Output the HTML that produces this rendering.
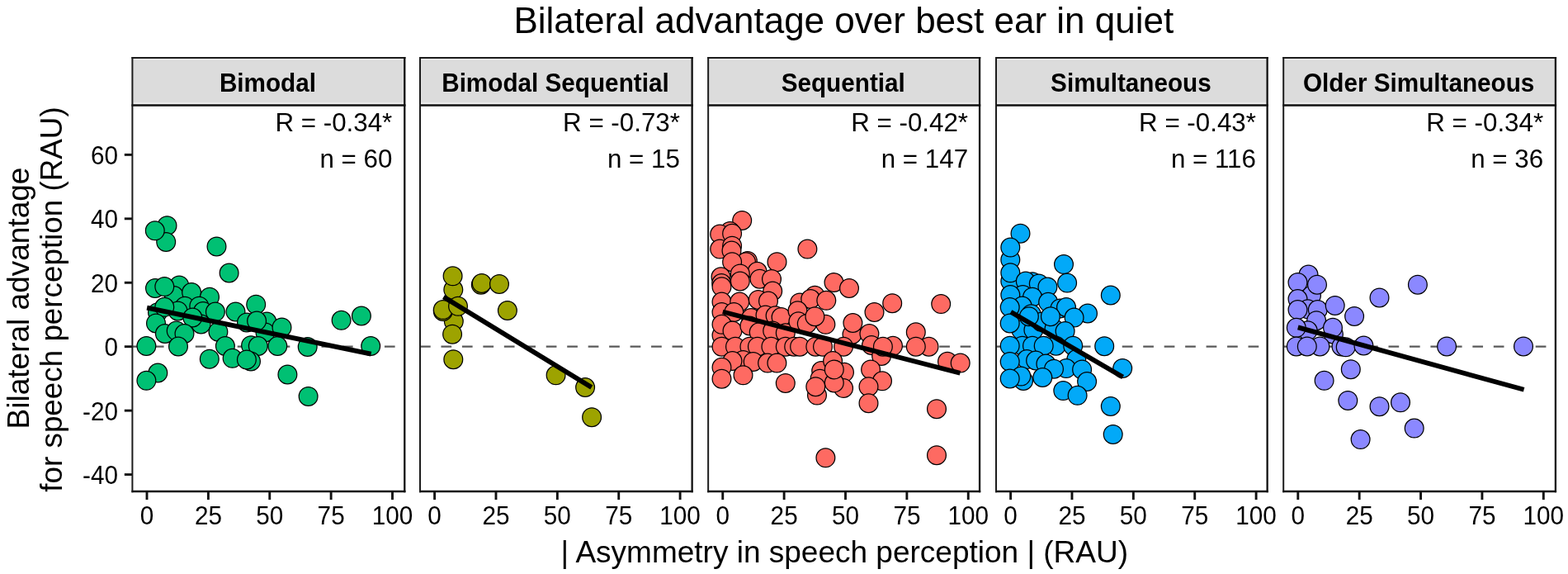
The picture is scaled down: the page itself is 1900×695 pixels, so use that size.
<!DOCTYPE html><html><head><meta charset="utf-8"><style>html,body{margin:0;padding:0;background:#fff;width:1900px;height:695px;overflow:hidden}svg{display:block}text{font-family:"Liberation Sans",Arial,sans-serif;fill:#000}</style></head><body>
<svg width="1900" height="695" viewBox="0 0 1900 695">
<rect x="0" y="0" width="1900" height="695" fill="#fff"/>
<text x="1022.3" y="39.6" font-size="44" text-anchor="middle">Bilateral advantage over best ear in quiet</text>
<g transform="translate(35.4,361) rotate(-90)"><text x="0" y="0" font-size="37" text-anchor="middle">Bilateral advantage</text></g>
<g transform="translate(75.1,362.5) rotate(-90)"><text x="0" y="0" font-size="36.8" text-anchor="middle">for speech perception (RAU)</text></g>
<text x="1023.3" y="680.5" font-size="37" text-anchor="middle">| Asymmetry in speech perception | (RAU)</text>
<line x1="150.8" y1="187.38" x2="160.40" y2="187.38" stroke="#111" stroke-width="2.9"/>
<text transform="translate(143,198.98) scale(1,1.055)" font-size="29.7" text-anchor="end">60</text>
<line x1="150.8" y1="264.82" x2="160.40" y2="264.82" stroke="#111" stroke-width="2.9"/>
<text transform="translate(143,276.42) scale(1,1.055)" font-size="29.7" text-anchor="end">40</text>
<line x1="150.8" y1="342.26" x2="160.40" y2="342.26" stroke="#111" stroke-width="2.9"/>
<text transform="translate(143,353.86) scale(1,1.055)" font-size="29.7" text-anchor="end">20</text>
<line x1="150.8" y1="419.70" x2="160.40" y2="419.70" stroke="#111" stroke-width="2.9"/>
<text transform="translate(143,431.30) scale(1,1.055)" font-size="29.7" text-anchor="end">0</text>
<line x1="150.8" y1="497.14" x2="160.40" y2="497.14" stroke="#111" stroke-width="2.9"/>
<text transform="translate(143,508.74) scale(1,1.055)" font-size="29.7" text-anchor="end">-20</text>
<line x1="150.8" y1="574.58" x2="160.40" y2="574.58" stroke="#111" stroke-width="2.9"/>
<text transform="translate(143,586.18) scale(1,1.055)" font-size="29.7" text-anchor="end">-40</text>
<rect x="160.40" y="69.95" width="329.87" height="57.55" fill="#dcdcdc"/>
<rect x="161.40" y="70.95" width="327.87" height="1.8" fill="#e7e7e7"/>
<rect x="161.40" y="124.10" width="327.87" height="2.0" fill="#ebebeb"/>
<text transform="translate(324.44,110.7) scale(1,1.05)" font-size="29.7" font-weight="bold" text-anchor="middle">Bimodal</text>
<clipPath id="c0"><rect x="160.40" y="127.50" width="329.87" height="467.50"/></clipPath>
<g clip-path="url(#c0)">
<line x1="160.40" y1="419.70" x2="490.27" y2="419.70" stroke="#595959" stroke-width="2.3" stroke-dasharray="12.7 12.76"/>
<circle cx="202.5" cy="273.2" r="11.38" fill="#00C073" stroke="#000" stroke-width="1.25"/>
<circle cx="201.2" cy="292.9" r="11.38" fill="#00C073" stroke="#000" stroke-width="1.25"/>
<circle cx="187.8" cy="279.3" r="11.38" fill="#00C073" stroke="#000" stroke-width="1.25"/>
<circle cx="262.5" cy="298.4" r="11.38" fill="#00C073" stroke="#000" stroke-width="1.25"/>
<circle cx="277.6" cy="330.5" r="11.38" fill="#00C073" stroke="#000" stroke-width="1.25"/>
<circle cx="188.0" cy="349.0" r="11.38" fill="#00C073" stroke="#000" stroke-width="1.25"/>
<circle cx="217.2" cy="345.4" r="11.38" fill="#00C073" stroke="#000" stroke-width="1.25"/>
<circle cx="210.9" cy="358.0" r="11.38" fill="#00C073" stroke="#000" stroke-width="1.25"/>
<circle cx="199.3" cy="347.1" r="11.38" fill="#00C073" stroke="#000" stroke-width="1.25"/>
<circle cx="232.1" cy="354.0" r="11.38" fill="#00C073" stroke="#000" stroke-width="1.25"/>
<circle cx="254.0" cy="359.7" r="11.38" fill="#00C073" stroke="#000" stroke-width="1.25"/>
<circle cx="310.2" cy="368.7" r="11.38" fill="#00C073" stroke="#000" stroke-width="1.25"/>
<circle cx="285.5" cy="377.5" r="11.38" fill="#00C073" stroke="#000" stroke-width="1.25"/>
<circle cx="437.9" cy="382.5" r="11.38" fill="#00C073" stroke="#000" stroke-width="1.25"/>
<circle cx="191.0" cy="378.2" r="11.38" fill="#00C073" stroke="#000" stroke-width="1.25"/>
<circle cx="224.0" cy="370.7" r="11.38" fill="#00C073" stroke="#000" stroke-width="1.25"/>
<circle cx="215.5" cy="376.4" r="11.38" fill="#00C073" stroke="#000" stroke-width="1.25"/>
<circle cx="241.3" cy="370.7" r="11.38" fill="#00C073" stroke="#000" stroke-width="1.25"/>
<circle cx="199.3" cy="371.8" r="11.38" fill="#00C073" stroke="#000" stroke-width="1.25"/>
<circle cx="246.0" cy="377.0" r="11.38" fill="#00C073" stroke="#000" stroke-width="1.25"/>
<circle cx="260.9" cy="377.6" r="11.38" fill="#00C073" stroke="#000" stroke-width="1.25"/>
<circle cx="243.6" cy="392.5" r="11.38" fill="#00C073" stroke="#000" stroke-width="1.25"/>
<circle cx="233.3" cy="384.5" r="11.38" fill="#00C073" stroke="#000" stroke-width="1.25"/>
<circle cx="189.0" cy="391.4" r="11.38" fill="#00C073" stroke="#000" stroke-width="1.25"/>
<circle cx="199.9" cy="404.0" r="11.38" fill="#00C073" stroke="#000" stroke-width="1.25"/>
<circle cx="213.7" cy="400.6" r="11.38" fill="#00C073" stroke="#000" stroke-width="1.25"/>
<circle cx="223.5" cy="404.0" r="11.38" fill="#00C073" stroke="#000" stroke-width="1.25"/>
<circle cx="264.4" cy="401.7" r="11.38" fill="#00C073" stroke="#000" stroke-width="1.25"/>
<circle cx="177.4" cy="419.0" r="11.38" fill="#00C073" stroke="#000" stroke-width="1.25"/>
<circle cx="216.0" cy="419.5" r="11.38" fill="#00C073" stroke="#000" stroke-width="1.25"/>
<circle cx="272.9" cy="419.0" r="11.38" fill="#00C073" stroke="#000" stroke-width="1.25"/>
<circle cx="299.0" cy="390.4" r="11.38" fill="#00C073" stroke="#000" stroke-width="1.25"/>
<circle cx="323.3" cy="389.5" r="11.38" fill="#00C073" stroke="#000" stroke-width="1.25"/>
<circle cx="321.5" cy="402.5" r="11.38" fill="#00C073" stroke="#000" stroke-width="1.25"/>
<circle cx="311.1" cy="388.6" r="11.38" fill="#00C073" stroke="#000" stroke-width="1.25"/>
<circle cx="341.5" cy="396.4" r="11.38" fill="#00C073" stroke="#000" stroke-width="1.25"/>
<circle cx="413.6" cy="387.8" r="11.38" fill="#00C073" stroke="#000" stroke-width="1.25"/>
<circle cx="304.1" cy="418.2" r="11.38" fill="#00C073" stroke="#000" stroke-width="1.25"/>
<circle cx="312.8" cy="419.0" r="11.38" fill="#00C073" stroke="#000" stroke-width="1.25"/>
<circle cx="336.3" cy="419.0" r="11.38" fill="#00C073" stroke="#000" stroke-width="1.25"/>
<circle cx="372.7" cy="419.9" r="11.38" fill="#00C073" stroke="#000" stroke-width="1.25"/>
<circle cx="449.2" cy="419.0" r="11.38" fill="#00C073" stroke="#000" stroke-width="1.25"/>
<circle cx="253.8" cy="434.7" r="11.38" fill="#00C073" stroke="#000" stroke-width="1.25"/>
<circle cx="281.6" cy="433.8" r="11.38" fill="#00C073" stroke="#000" stroke-width="1.25"/>
<circle cx="304.0" cy="437.5" r="11.38" fill="#00C073" stroke="#000" stroke-width="1.25"/>
<circle cx="298.9" cy="435.5" r="11.38" fill="#00C073" stroke="#000" stroke-width="1.25"/>
<circle cx="191.3" cy="451.5" r="11.38" fill="#00C073" stroke="#000" stroke-width="1.25"/>
<circle cx="177.4" cy="460.8" r="11.38" fill="#00C073" stroke="#000" stroke-width="1.25"/>
<circle cx="348.4" cy="453.5" r="11.38" fill="#00C073" stroke="#000" stroke-width="1.25"/>
<circle cx="373.6" cy="479.9" r="11.38" fill="#00C073" stroke="#000" stroke-width="1.25"/>
<line x1="178.1" y1="372.6" x2="449.6" y2="428.7" stroke="#000" stroke-width="5.8"/>
</g>
<text x="475.30" y="159.1" font-size="31.3" text-anchor="end">R = -0.34*</text>
<text x="475.30" y="203.4" font-size="31.3" text-anchor="end">n = 60</text>
<line x1="159.40" y1="69.95" x2="491.47" y2="69.95" stroke="#1c1c1c" stroke-width="1.9"/>
<line x1="159.40" y1="127.50" x2="491.47" y2="127.50" stroke="#111" stroke-width="2.6"/>
<line x1="159.40" y1="595.00" x2="491.47" y2="595.00" stroke="#111" stroke-width="2.4"/>
<line x1="160.40" y1="69.00" x2="160.40" y2="596.20" stroke="#1c1c1c" stroke-width="2.0"/>
<line x1="490.27" y1="69.00" x2="490.27" y2="596.20" stroke="#111" stroke-width="2.3"/>
<line x1="178.00" y1="595.00" x2="178.00" y2="605.1" stroke="#111" stroke-width="2.9"/>
<text transform="translate(178.00,634.9) scale(1,1.05)" font-size="29.7" text-anchor="middle">0</text>
<line x1="252.38" y1="595.00" x2="252.38" y2="605.1" stroke="#111" stroke-width="2.9"/>
<text transform="translate(252.38,634.9) scale(1,1.05)" font-size="29.7" text-anchor="middle">25</text>
<line x1="326.75" y1="595.00" x2="326.75" y2="605.1" stroke="#111" stroke-width="2.9"/>
<text transform="translate(326.75,634.9) scale(1,1.05)" font-size="29.7" text-anchor="middle">50</text>
<line x1="401.12" y1="595.00" x2="401.12" y2="605.1" stroke="#111" stroke-width="2.9"/>
<text transform="translate(401.12,634.9) scale(1,1.05)" font-size="29.7" text-anchor="middle">75</text>
<line x1="475.50" y1="595.00" x2="475.50" y2="605.1" stroke="#111" stroke-width="2.9"/>
<text transform="translate(475.50,634.9) scale(1,1.05)" font-size="29.7" text-anchor="middle">100</text>
<rect x="509.00" y="69.95" width="329.64" height="57.55" fill="#dcdcdc"/>
<rect x="510.00" y="70.95" width="327.64" height="1.8" fill="#e7e7e7"/>
<rect x="510.00" y="124.10" width="327.64" height="2.0" fill="#ebebeb"/>
<text transform="translate(672.92,110.7) scale(1,1.05)" font-size="29.7" font-weight="bold" text-anchor="middle">Bimodal Sequential</text>
<clipPath id="c1"><rect x="509.00" y="127.50" width="329.64" height="467.50"/></clipPath>
<g clip-path="url(#c1)">
<line x1="509.00" y1="419.70" x2="838.64" y2="419.70" stroke="#595959" stroke-width="2.3" stroke-dasharray="12.7 12.76"/>
<circle cx="549.3" cy="350.8" r="11.38" fill="#9DA300" stroke="#000" stroke-width="1.25"/>
<circle cx="548.6" cy="334.3" r="11.38" fill="#9DA300" stroke="#000" stroke-width="1.25"/>
<circle cx="582.8" cy="344.7" r="11.38" fill="#9DA300" stroke="#000" stroke-width="1.25"/>
<circle cx="583.7" cy="343.0" r="11.38" fill="#9DA300" stroke="#000" stroke-width="1.25"/>
<circle cx="605.0" cy="343.9" r="11.38" fill="#9DA300" stroke="#000" stroke-width="1.25"/>
<circle cx="549.8" cy="389.0" r="11.38" fill="#9DA300" stroke="#000" stroke-width="1.25"/>
<circle cx="548.1" cy="404.7" r="11.38" fill="#9DA300" stroke="#000" stroke-width="1.25"/>
<circle cx="536.8" cy="376.9" r="11.38" fill="#9DA300" stroke="#000" stroke-width="1.25"/>
<circle cx="536.8" cy="375.1" r="11.38" fill="#9DA300" stroke="#000" stroke-width="1.25"/>
<circle cx="555.0" cy="370.8" r="11.38" fill="#9DA300" stroke="#000" stroke-width="1.25"/>
<circle cx="614.9" cy="376.0" r="11.38" fill="#9DA300" stroke="#000" stroke-width="1.25"/>
<circle cx="549.3" cy="435.2" r="11.38" fill="#9DA300" stroke="#000" stroke-width="1.25"/>
<circle cx="673.6" cy="454.3" r="11.38" fill="#9DA300" stroke="#000" stroke-width="1.25"/>
<circle cx="709.1" cy="469.0" r="11.38" fill="#9DA300" stroke="#000" stroke-width="1.25"/>
<circle cx="717.1" cy="505.2" r="11.38" fill="#9DA300" stroke="#000" stroke-width="1.25"/>
<line x1="537.5" y1="359.6" x2="716.8" y2="469.0" stroke="#000" stroke-width="5.8"/>
</g>
<text x="823.90" y="159.1" font-size="31.3" text-anchor="end">R = -0.73*</text>
<text x="823.90" y="203.4" font-size="31.3" text-anchor="end">n = 15</text>
<line x1="508.00" y1="69.95" x2="839.84" y2="69.95" stroke="#1c1c1c" stroke-width="1.9"/>
<line x1="508.00" y1="127.50" x2="839.84" y2="127.50" stroke="#111" stroke-width="2.6"/>
<line x1="508.00" y1="595.00" x2="839.84" y2="595.00" stroke="#111" stroke-width="2.4"/>
<line x1="509.00" y1="69.00" x2="509.00" y2="596.20" stroke="#1c1c1c" stroke-width="2.0"/>
<line x1="838.64" y1="69.00" x2="838.64" y2="596.20" stroke="#111" stroke-width="2.3"/>
<line x1="526.60" y1="595.00" x2="526.60" y2="605.1" stroke="#111" stroke-width="2.9"/>
<text transform="translate(526.60,634.9) scale(1,1.05)" font-size="29.7" text-anchor="middle">0</text>
<line x1="600.98" y1="595.00" x2="600.98" y2="605.1" stroke="#111" stroke-width="2.9"/>
<text transform="translate(600.98,634.9) scale(1,1.05)" font-size="29.7" text-anchor="middle">25</text>
<line x1="675.35" y1="595.00" x2="675.35" y2="605.1" stroke="#111" stroke-width="2.9"/>
<text transform="translate(675.35,634.9) scale(1,1.05)" font-size="29.7" text-anchor="middle">50</text>
<line x1="749.73" y1="595.00" x2="749.73" y2="605.1" stroke="#111" stroke-width="2.9"/>
<text transform="translate(749.73,634.9) scale(1,1.05)" font-size="29.7" text-anchor="middle">75</text>
<line x1="824.10" y1="595.00" x2="824.10" y2="605.1" stroke="#111" stroke-width="2.9"/>
<text transform="translate(824.10,634.9) scale(1,1.05)" font-size="29.7" text-anchor="middle">100</text>
<rect x="858.15" y="69.95" width="328.91" height="57.55" fill="#dcdcdc"/>
<rect x="859.15" y="70.95" width="326.91" height="1.8" fill="#e7e7e7"/>
<rect x="859.15" y="124.10" width="326.91" height="2.0" fill="#ebebeb"/>
<text transform="translate(1021.71,110.7) scale(1,1.05)" font-size="29.7" font-weight="bold" text-anchor="middle">Sequential</text>
<clipPath id="c2"><rect x="858.15" y="127.50" width="328.91" height="467.50"/></clipPath>
<g clip-path="url(#c2)">
<line x1="858.15" y1="419.70" x2="1187.06" y2="419.70" stroke="#595959" stroke-width="2.3" stroke-dasharray="12.7 12.76"/>
<circle cx="899.2" cy="266.9" r="11.38" fill="#FE6A62" stroke="#000" stroke-width="1.25"/>
<circle cx="884.5" cy="280.0" r="11.38" fill="#FE6A62" stroke="#000" stroke-width="1.25"/>
<circle cx="872.2" cy="283.5" r="11.38" fill="#FE6A62" stroke="#000" stroke-width="1.25"/>
<circle cx="887.1" cy="282.8" r="11.38" fill="#FE6A62" stroke="#000" stroke-width="1.25"/>
<circle cx="872.2" cy="301.6" r="11.38" fill="#FE6A62" stroke="#000" stroke-width="1.25"/>
<circle cx="887.1" cy="297.7" r="11.38" fill="#FE6A62" stroke="#000" stroke-width="1.25"/>
<circle cx="886.5" cy="303.6" r="11.38" fill="#FE6A62" stroke="#000" stroke-width="1.25"/>
<circle cx="905.9" cy="315.9" r="11.38" fill="#FE6A62" stroke="#000" stroke-width="1.25"/>
<circle cx="904.0" cy="317.2" r="11.38" fill="#FE6A62" stroke="#000" stroke-width="1.25"/>
<circle cx="887.1" cy="317.2" r="11.38" fill="#FE6A62" stroke="#000" stroke-width="1.25"/>
<circle cx="917.6" cy="328.8" r="11.38" fill="#FE6A62" stroke="#000" stroke-width="1.25"/>
<circle cx="941.5" cy="317.2" r="11.38" fill="#FE6A62" stroke="#000" stroke-width="1.25"/>
<circle cx="978.4" cy="301.6" r="11.38" fill="#FE6A62" stroke="#000" stroke-width="1.25"/>
<circle cx="873.5" cy="335.3" r="11.38" fill="#FE6A62" stroke="#000" stroke-width="1.25"/>
<circle cx="896.8" cy="331.4" r="11.38" fill="#FE6A62" stroke="#000" stroke-width="1.25"/>
<circle cx="896.8" cy="340.5" r="11.38" fill="#FE6A62" stroke="#000" stroke-width="1.25"/>
<circle cx="920.5" cy="337.7" r="11.38" fill="#FE6A62" stroke="#000" stroke-width="1.25"/>
<circle cx="935.0" cy="337.9" r="11.38" fill="#FE6A62" stroke="#000" stroke-width="1.25"/>
<circle cx="874.2" cy="343.0" r="11.38" fill="#FE6A62" stroke="#000" stroke-width="1.25"/>
<circle cx="874.5" cy="347.3" r="11.38" fill="#FE6A62" stroke="#000" stroke-width="1.25"/>
<circle cx="936.2" cy="352.5" r="11.38" fill="#FE6A62" stroke="#000" stroke-width="1.25"/>
<circle cx="1010.5" cy="342.0" r="11.38" fill="#FE6A62" stroke="#000" stroke-width="1.25"/>
<circle cx="1029.0" cy="349.0" r="11.38" fill="#FE6A62" stroke="#000" stroke-width="1.25"/>
<circle cx="874.5" cy="365.5" r="11.38" fill="#FE6A62" stroke="#000" stroke-width="1.25"/>
<circle cx="896.2" cy="365.5" r="11.38" fill="#FE6A62" stroke="#000" stroke-width="1.25"/>
<circle cx="918.8" cy="362.9" r="11.38" fill="#FE6A62" stroke="#000" stroke-width="1.25"/>
<circle cx="931.0" cy="364.6" r="11.38" fill="#FE6A62" stroke="#000" stroke-width="1.25"/>
<circle cx="987.4" cy="357.7" r="11.38" fill="#FE6A62" stroke="#000" stroke-width="1.25"/>
<circle cx="969.1" cy="366.4" r="11.38" fill="#FE6A62" stroke="#000" stroke-width="1.25"/>
<circle cx="982.2" cy="362.0" r="11.38" fill="#FE6A62" stroke="#000" stroke-width="1.25"/>
<circle cx="1001.3" cy="363.8" r="11.38" fill="#FE6A62" stroke="#000" stroke-width="1.25"/>
<circle cx="1081.2" cy="367.2" r="11.38" fill="#FE6A62" stroke="#000" stroke-width="1.25"/>
<circle cx="1140.2" cy="368.1" r="11.38" fill="#FE6A62" stroke="#000" stroke-width="1.25"/>
<circle cx="1059.5" cy="378.0" r="11.38" fill="#FE6A62" stroke="#000" stroke-width="1.25"/>
<circle cx="874.5" cy="378.0" r="11.38" fill="#FE6A62" stroke="#000" stroke-width="1.25"/>
<circle cx="889.3" cy="378.0" r="11.38" fill="#FE6A62" stroke="#000" stroke-width="1.25"/>
<circle cx="910.1" cy="385.0" r="11.38" fill="#FE6A62" stroke="#000" stroke-width="1.25"/>
<circle cx="927.5" cy="381.5" r="11.38" fill="#FE6A62" stroke="#000" stroke-width="1.25"/>
<circle cx="939.6" cy="382.3" r="11.38" fill="#FE6A62" stroke="#000" stroke-width="1.25"/>
<circle cx="946.6" cy="384.1" r="11.38" fill="#FE6A62" stroke="#000" stroke-width="1.25"/>
<circle cx="966.5" cy="376.3" r="11.38" fill="#FE6A62" stroke="#000" stroke-width="1.25"/>
<circle cx="874.5" cy="406.0" r="11.38" fill="#FE6A62" stroke="#000" stroke-width="1.25"/>
<circle cx="874.5" cy="392.8" r="11.38" fill="#FE6A62" stroke="#000" stroke-width="1.25"/>
<circle cx="887.5" cy="400.6" r="11.38" fill="#FE6A62" stroke="#000" stroke-width="1.25"/>
<circle cx="908.4" cy="394.5" r="11.38" fill="#FE6A62" stroke="#000" stroke-width="1.25"/>
<circle cx="919.7" cy="402.3" r="11.38" fill="#FE6A62" stroke="#000" stroke-width="1.25"/>
<circle cx="936.2" cy="400.6" r="11.38" fill="#FE6A62" stroke="#000" stroke-width="1.25"/>
<circle cx="951.8" cy="403.2" r="11.38" fill="#FE6A62" stroke="#000" stroke-width="1.25"/>
<circle cx="967.4" cy="389.3" r="11.38" fill="#FE6A62" stroke="#000" stroke-width="1.25"/>
<circle cx="977.8" cy="391.9" r="11.38" fill="#FE6A62" stroke="#000" stroke-width="1.25"/>
<circle cx="1000.4" cy="392.8" r="11.38" fill="#FE6A62" stroke="#000" stroke-width="1.25"/>
<circle cx="987.4" cy="383.2" r="11.38" fill="#FE6A62" stroke="#000" stroke-width="1.25"/>
<circle cx="1032.5" cy="404.9" r="11.38" fill="#FE6A62" stroke="#000" stroke-width="1.25"/>
<circle cx="1033.4" cy="391.0" r="11.38" fill="#FE6A62" stroke="#000" stroke-width="1.25"/>
<circle cx="1053.4" cy="404.1" r="11.38" fill="#FE6A62" stroke="#000" stroke-width="1.25"/>
<circle cx="1109.8" cy="402.3" r="11.38" fill="#FE6A62" stroke="#000" stroke-width="1.25"/>
<circle cx="874.5" cy="419.7" r="11.38" fill="#FE6A62" stroke="#000" stroke-width="1.25"/>
<circle cx="891.0" cy="419.7" r="11.38" fill="#FE6A62" stroke="#000" stroke-width="1.25"/>
<circle cx="908.4" cy="419.7" r="11.38" fill="#FE6A62" stroke="#000" stroke-width="1.25"/>
<circle cx="917.9" cy="419.7" r="11.38" fill="#FE6A62" stroke="#000" stroke-width="1.25"/>
<circle cx="934.4" cy="419.7" r="11.38" fill="#FE6A62" stroke="#000" stroke-width="1.25"/>
<circle cx="951.8" cy="419.7" r="11.38" fill="#FE6A62" stroke="#000" stroke-width="1.25"/>
<circle cx="962.2" cy="419.7" r="11.38" fill="#FE6A62" stroke="#000" stroke-width="1.25"/>
<circle cx="969.1" cy="419.7" r="11.38" fill="#FE6A62" stroke="#000" stroke-width="1.25"/>
<circle cx="988.3" cy="419.7" r="11.38" fill="#FE6A62" stroke="#000" stroke-width="1.25"/>
<circle cx="997.0" cy="419.7" r="11.38" fill="#FE6A62" stroke="#000" stroke-width="1.25"/>
<circle cx="1022.1" cy="419.7" r="11.38" fill="#FE6A62" stroke="#000" stroke-width="1.25"/>
<circle cx="1056.0" cy="418.0" r="11.38" fill="#FE6A62" stroke="#000" stroke-width="1.25"/>
<circle cx="1068.1" cy="430.9" r="11.38" fill="#FE6A62" stroke="#000" stroke-width="1.25"/>
<circle cx="1082.0" cy="418.8" r="11.38" fill="#FE6A62" stroke="#000" stroke-width="1.25"/>
<circle cx="1069.9" cy="419.7" r="11.38" fill="#FE6A62" stroke="#000" stroke-width="1.25"/>
<circle cx="1125.5" cy="419.7" r="11.38" fill="#FE6A62" stroke="#000" stroke-width="1.25"/>
<circle cx="1109.8" cy="419.7" r="11.38" fill="#FE6A62" stroke="#000" stroke-width="1.25"/>
<circle cx="900.5" cy="436.0" r="11.38" fill="#FE6A62" stroke="#000" stroke-width="1.25"/>
<circle cx="887.5" cy="437.0" r="11.38" fill="#FE6A62" stroke="#000" stroke-width="1.25"/>
<circle cx="912.7" cy="437.9" r="11.38" fill="#FE6A62" stroke="#000" stroke-width="1.25"/>
<circle cx="930.1" cy="439.6" r="11.38" fill="#FE6A62" stroke="#000" stroke-width="1.25"/>
<circle cx="941.4" cy="439.6" r="11.38" fill="#FE6A62" stroke="#000" stroke-width="1.25"/>
<circle cx="874.5" cy="444.8" r="11.38" fill="#FE6A62" stroke="#000" stroke-width="1.25"/>
<circle cx="874.5" cy="458.7" r="11.38" fill="#FE6A62" stroke="#000" stroke-width="1.25"/>
<circle cx="900.5" cy="454.3" r="11.38" fill="#FE6A62" stroke="#000" stroke-width="1.25"/>
<circle cx="951.8" cy="463.9" r="11.38" fill="#FE6A62" stroke="#000" stroke-width="1.25"/>
<circle cx="995.2" cy="449.1" r="11.38" fill="#FE6A62" stroke="#000" stroke-width="1.25"/>
<circle cx="1009.1" cy="437.0" r="11.38" fill="#FE6A62" stroke="#000" stroke-width="1.25"/>
<circle cx="993.5" cy="458.7" r="11.38" fill="#FE6A62" stroke="#000" stroke-width="1.25"/>
<circle cx="1023.0" cy="450.8" r="11.38" fill="#FE6A62" stroke="#000" stroke-width="1.25"/>
<circle cx="1022.1" cy="470.0" r="11.38" fill="#FE6A62" stroke="#000" stroke-width="1.25"/>
<circle cx="1010.8" cy="463.5" r="11.38" fill="#FE6A62" stroke="#000" stroke-width="1.25"/>
<circle cx="1010.8" cy="447.4" r="11.38" fill="#FE6A62" stroke="#000" stroke-width="1.25"/>
<circle cx="990.0" cy="478.6" r="11.38" fill="#FE6A62" stroke="#000" stroke-width="1.25"/>
<circle cx="988.3" cy="468.2" r="11.38" fill="#FE6A62" stroke="#000" stroke-width="1.25"/>
<circle cx="1055.1" cy="447.4" r="11.38" fill="#FE6A62" stroke="#000" stroke-width="1.25"/>
<circle cx="1069.0" cy="461.3" r="11.38" fill="#FE6A62" stroke="#000" stroke-width="1.25"/>
<circle cx="1052.5" cy="468.2" r="11.38" fill="#FE6A62" stroke="#000" stroke-width="1.25"/>
<circle cx="1052.5" cy="488.2" r="11.38" fill="#FE6A62" stroke="#000" stroke-width="1.25"/>
<circle cx="1135.0" cy="495.2" r="11.38" fill="#FE6A62" stroke="#000" stroke-width="1.25"/>
<circle cx="1148.0" cy="437.8" r="11.38" fill="#FE6A62" stroke="#000" stroke-width="1.25"/>
<circle cx="1163.7" cy="439.6" r="11.38" fill="#FE6A62" stroke="#000" stroke-width="1.25"/>
<circle cx="1000.4" cy="554.3" r="11.38" fill="#FE6A62" stroke="#000" stroke-width="1.25"/>
<circle cx="1135.0" cy="551.2" r="11.38" fill="#FE6A62" stroke="#000" stroke-width="1.25"/>
<line x1="875.8" y1="377.5" x2="1163.4" y2="451.8" stroke="#000" stroke-width="5.8"/>
</g>
<text x="1173.05" y="159.1" font-size="31.3" text-anchor="end">R = -0.42*</text>
<text x="1173.05" y="203.4" font-size="31.3" text-anchor="end">n = 147</text>
<line x1="857.15" y1="69.95" x2="1188.26" y2="69.95" stroke="#1c1c1c" stroke-width="1.9"/>
<line x1="857.15" y1="127.50" x2="1188.26" y2="127.50" stroke="#111" stroke-width="2.6"/>
<line x1="857.15" y1="595.00" x2="1188.26" y2="595.00" stroke="#111" stroke-width="2.4"/>
<line x1="858.15" y1="69.00" x2="858.15" y2="596.20" stroke="#1c1c1c" stroke-width="2.0"/>
<line x1="1187.06" y1="69.00" x2="1187.06" y2="596.20" stroke="#111" stroke-width="2.3"/>
<line x1="875.75" y1="595.00" x2="875.75" y2="605.1" stroke="#111" stroke-width="2.9"/>
<text transform="translate(875.75,634.9) scale(1,1.05)" font-size="29.7" text-anchor="middle">0</text>
<line x1="950.12" y1="595.00" x2="950.12" y2="605.1" stroke="#111" stroke-width="2.9"/>
<text transform="translate(950.12,634.9) scale(1,1.05)" font-size="29.7" text-anchor="middle">25</text>
<line x1="1024.50" y1="595.00" x2="1024.50" y2="605.1" stroke="#111" stroke-width="2.9"/>
<text transform="translate(1024.50,634.9) scale(1,1.05)" font-size="29.7" text-anchor="middle">50</text>
<line x1="1098.88" y1="595.00" x2="1098.88" y2="605.1" stroke="#111" stroke-width="2.9"/>
<text transform="translate(1098.88,634.9) scale(1,1.05)" font-size="29.7" text-anchor="middle">75</text>
<line x1="1173.25" y1="595.00" x2="1173.25" y2="605.1" stroke="#111" stroke-width="2.9"/>
<text transform="translate(1173.25,634.9) scale(1,1.05)" font-size="29.7" text-anchor="middle">100</text>
<rect x="1207.00" y="69.95" width="328.63" height="57.55" fill="#dcdcdc"/>
<rect x="1208.00" y="70.95" width="326.63" height="1.8" fill="#e7e7e7"/>
<rect x="1208.00" y="124.10" width="326.63" height="2.0" fill="#ebebeb"/>
<text transform="translate(1370.41,110.7) scale(1,1.05)" font-size="29.7" font-weight="bold" text-anchor="middle">Simultaneous</text>
<clipPath id="c3"><rect x="1207.00" y="127.50" width="328.63" height="467.50"/></clipPath>
<g clip-path="url(#c3)">
<line x1="1207.00" y1="419.70" x2="1535.63" y2="419.70" stroke="#595959" stroke-width="2.3" stroke-dasharray="12.7 12.76"/>
<circle cx="1236.5" cy="282.7" r="11.38" fill="#02A9F8" stroke="#000" stroke-width="1.25"/>
<circle cx="1224.3" cy="314.6" r="11.38" fill="#02A9F8" stroke="#000" stroke-width="1.25"/>
<circle cx="1224.3" cy="299.6" r="11.38" fill="#02A9F8" stroke="#000" stroke-width="1.25"/>
<circle cx="1224.3" cy="340.6" r="11.38" fill="#02A9F8" stroke="#000" stroke-width="1.25"/>
<circle cx="1224.3" cy="330.3" r="11.38" fill="#02A9F8" stroke="#000" stroke-width="1.25"/>
<circle cx="1251.0" cy="341.2" r="11.38" fill="#02A9F8" stroke="#000" stroke-width="1.25"/>
<circle cx="1242.8" cy="340.6" r="11.38" fill="#02A9F8" stroke="#000" stroke-width="1.25"/>
<circle cx="1258.8" cy="343.5" r="11.38" fill="#02A9F8" stroke="#000" stroke-width="1.25"/>
<circle cx="1269.4" cy="347.4" r="11.38" fill="#02A9F8" stroke="#000" stroke-width="1.25"/>
<circle cx="1289.0" cy="320.1" r="11.38" fill="#02A9F8" stroke="#000" stroke-width="1.25"/>
<circle cx="1293.1" cy="342.6" r="11.38" fill="#02A9F8" stroke="#000" stroke-width="1.25"/>
<circle cx="1345.8" cy="357.5" r="11.38" fill="#02A9F8" stroke="#000" stroke-width="1.25"/>
<circle cx="1239.4" cy="357.0" r="11.38" fill="#02A9F8" stroke="#000" stroke-width="1.25"/>
<circle cx="1224.3" cy="357.0" r="11.38" fill="#02A9F8" stroke="#000" stroke-width="1.25"/>
<circle cx="1251.0" cy="359.7" r="11.38" fill="#02A9F8" stroke="#000" stroke-width="1.25"/>
<circle cx="1270.1" cy="365.8" r="11.38" fill="#02A9F8" stroke="#000" stroke-width="1.25"/>
<circle cx="1238.7" cy="370.6" r="11.38" fill="#02A9F8" stroke="#000" stroke-width="1.25"/>
<circle cx="1223.7" cy="372.0" r="11.38" fill="#02A9F8" stroke="#000" stroke-width="1.25"/>
<circle cx="1284.5" cy="373.4" r="11.38" fill="#02A9F8" stroke="#000" stroke-width="1.25"/>
<circle cx="1292.0" cy="372.0" r="11.38" fill="#02A9F8" stroke="#000" stroke-width="1.25"/>
<circle cx="1249.6" cy="380.2" r="11.38" fill="#02A9F8" stroke="#000" stroke-width="1.25"/>
<circle cx="1318.0" cy="379.5" r="11.38" fill="#02A9F8" stroke="#000" stroke-width="1.25"/>
<circle cx="1237.3" cy="399.6" r="11.38" fill="#02A9F8" stroke="#000" stroke-width="1.25"/>
<circle cx="1252.4" cy="399.6" r="11.38" fill="#02A9F8" stroke="#000" stroke-width="1.25"/>
<circle cx="1261.7" cy="389.7" r="11.38" fill="#02A9F8" stroke="#000" stroke-width="1.25"/>
<circle cx="1277.5" cy="398.3" r="11.38" fill="#02A9F8" stroke="#000" stroke-width="1.25"/>
<circle cx="1223.7" cy="391.4" r="11.38" fill="#02A9F8" stroke="#000" stroke-width="1.25"/>
<circle cx="1246.9" cy="383.2" r="11.38" fill="#02A9F8" stroke="#000" stroke-width="1.25"/>
<circle cx="1272.9" cy="383.2" r="11.38" fill="#02A9F8" stroke="#000" stroke-width="1.25"/>
<circle cx="1301.6" cy="384.6" r="11.38" fill="#02A9F8" stroke="#000" stroke-width="1.25"/>
<circle cx="1290.6" cy="401.0" r="11.38" fill="#02A9F8" stroke="#000" stroke-width="1.25"/>
<circle cx="1238.7" cy="418.7" r="11.38" fill="#02A9F8" stroke="#000" stroke-width="1.25"/>
<circle cx="1251.0" cy="418.7" r="11.38" fill="#02A9F8" stroke="#000" stroke-width="1.25"/>
<circle cx="1279.7" cy="418.7" r="11.38" fill="#02A9F8" stroke="#000" stroke-width="1.25"/>
<circle cx="1223.7" cy="418.7" r="11.38" fill="#02A9F8" stroke="#000" stroke-width="1.25"/>
<circle cx="1264.7" cy="418.7" r="11.38" fill="#02A9F8" stroke="#000" stroke-width="1.25"/>
<circle cx="1300.2" cy="418.7" r="11.38" fill="#02A9F8" stroke="#000" stroke-width="1.25"/>
<circle cx="1338.2" cy="419.2" r="11.38" fill="#02A9F8" stroke="#000" stroke-width="1.25"/>
<circle cx="1244.2" cy="435.1" r="11.38" fill="#02A9F8" stroke="#000" stroke-width="1.25"/>
<circle cx="1255.1" cy="436.5" r="11.38" fill="#02A9F8" stroke="#000" stroke-width="1.25"/>
<circle cx="1304.3" cy="435.1" r="11.38" fill="#02A9F8" stroke="#000" stroke-width="1.25"/>
<circle cx="1223.7" cy="437.9" r="11.38" fill="#02A9F8" stroke="#000" stroke-width="1.25"/>
<circle cx="1267.4" cy="440.6" r="11.38" fill="#02A9F8" stroke="#000" stroke-width="1.25"/>
<circle cx="1292.0" cy="446.1" r="11.38" fill="#02A9F8" stroke="#000" stroke-width="1.25"/>
<circle cx="1277.0" cy="446.7" r="11.38" fill="#02A9F8" stroke="#000" stroke-width="1.25"/>
<circle cx="1311.1" cy="447.4" r="11.38" fill="#02A9F8" stroke="#000" stroke-width="1.25"/>
<circle cx="1240.1" cy="461.0" r="11.38" fill="#02A9F8" stroke="#000" stroke-width="1.25"/>
<circle cx="1237.3" cy="455.6" r="11.38" fill="#02A9F8" stroke="#000" stroke-width="1.25"/>
<circle cx="1223.7" cy="458.4" r="11.38" fill="#02A9F8" stroke="#000" stroke-width="1.25"/>
<circle cx="1263.3" cy="457.0" r="11.38" fill="#02A9F8" stroke="#000" stroke-width="1.25"/>
<circle cx="1317.1" cy="462.0" r="11.38" fill="#02A9F8" stroke="#000" stroke-width="1.25"/>
<circle cx="1288.3" cy="473.1" r="11.38" fill="#02A9F8" stroke="#000" stroke-width="1.25"/>
<circle cx="1305.6" cy="478.8" r="11.38" fill="#02A9F8" stroke="#000" stroke-width="1.25"/>
<circle cx="1360.2" cy="445.9" r="11.38" fill="#02A9F8" stroke="#000" stroke-width="1.25"/>
<circle cx="1345.8" cy="491.9" r="11.38" fill="#02A9F8" stroke="#000" stroke-width="1.25"/>
<circle cx="1348.7" cy="525.9" r="11.38" fill="#02A9F8" stroke="#000" stroke-width="1.25"/>
<line x1="1224.9" y1="377.8" x2="1360.6" y2="456.5" stroke="#000" stroke-width="5.8"/>
</g>
<text x="1521.90" y="159.1" font-size="31.3" text-anchor="end">R = -0.43*</text>
<text x="1521.90" y="203.4" font-size="31.3" text-anchor="end">n = 116</text>
<line x1="1206.00" y1="69.95" x2="1536.83" y2="69.95" stroke="#1c1c1c" stroke-width="1.9"/>
<line x1="1206.00" y1="127.50" x2="1536.83" y2="127.50" stroke="#111" stroke-width="2.6"/>
<line x1="1206.00" y1="595.00" x2="1536.83" y2="595.00" stroke="#111" stroke-width="2.4"/>
<line x1="1207.00" y1="69.00" x2="1207.00" y2="596.20" stroke="#1c1c1c" stroke-width="2.0"/>
<line x1="1535.63" y1="69.00" x2="1535.63" y2="596.20" stroke="#111" stroke-width="2.3"/>
<line x1="1224.60" y1="595.00" x2="1224.60" y2="605.1" stroke="#111" stroke-width="2.9"/>
<text transform="translate(1224.60,634.9) scale(1,1.05)" font-size="29.7" text-anchor="middle">0</text>
<line x1="1298.97" y1="595.00" x2="1298.97" y2="605.1" stroke="#111" stroke-width="2.9"/>
<text transform="translate(1298.97,634.9) scale(1,1.05)" font-size="29.7" text-anchor="middle">25</text>
<line x1="1373.35" y1="595.00" x2="1373.35" y2="605.1" stroke="#111" stroke-width="2.9"/>
<text transform="translate(1373.35,634.9) scale(1,1.05)" font-size="29.7" text-anchor="middle">50</text>
<line x1="1447.72" y1="595.00" x2="1447.72" y2="605.1" stroke="#111" stroke-width="2.9"/>
<text transform="translate(1447.72,634.9) scale(1,1.05)" font-size="29.7" text-anchor="middle">75</text>
<line x1="1522.10" y1="595.00" x2="1522.10" y2="605.1" stroke="#111" stroke-width="2.9"/>
<text transform="translate(1522.10,634.9) scale(1,1.05)" font-size="29.7" text-anchor="middle">100</text>
<rect x="1555.20" y="69.95" width="329.70" height="57.55" fill="#dcdcdc"/>
<rect x="1556.20" y="70.95" width="327.70" height="1.8" fill="#e7e7e7"/>
<rect x="1556.20" y="124.10" width="327.70" height="2.0" fill="#ebebeb"/>
<text transform="translate(1719.15,110.7) scale(1,1.05)" font-size="29.7" font-weight="bold" text-anchor="middle">Older Simultaneous</text>
<clipPath id="c4"><rect x="1555.20" y="127.50" width="329.70" height="467.50"/></clipPath>
<g clip-path="url(#c4)">
<line x1="1555.20" y1="419.70" x2="1884.90" y2="419.70" stroke="#595959" stroke-width="2.3" stroke-dasharray="12.7 12.76"/>
<circle cx="1589.0" cy="357.8" r="11.38" fill="#8B88FF" stroke="#000" stroke-width="1.25"/>
<circle cx="1585.5" cy="332.6" r="11.38" fill="#8B88FF" stroke="#000" stroke-width="1.25"/>
<circle cx="1572.5" cy="342.1" r="11.38" fill="#8B88FF" stroke="#000" stroke-width="1.25"/>
<circle cx="1596.0" cy="344.7" r="11.38" fill="#8B88FF" stroke="#000" stroke-width="1.25"/>
<circle cx="1572.5" cy="362.1" r="11.38" fill="#8B88FF" stroke="#000" stroke-width="1.25"/>
<circle cx="1584.7" cy="374.3" r="11.38" fill="#8B88FF" stroke="#000" stroke-width="1.25"/>
<circle cx="1596.8" cy="375.1" r="11.38" fill="#8B88FF" stroke="#000" stroke-width="1.25"/>
<circle cx="1572.5" cy="375.1" r="11.38" fill="#8B88FF" stroke="#000" stroke-width="1.25"/>
<circle cx="1617.7" cy="369.9" r="11.38" fill="#8B88FF" stroke="#000" stroke-width="1.25"/>
<circle cx="1641.1" cy="382.9" r="11.38" fill="#8B88FF" stroke="#000" stroke-width="1.25"/>
<circle cx="1671.5" cy="360.4" r="11.38" fill="#8B88FF" stroke="#000" stroke-width="1.25"/>
<circle cx="1717.9" cy="344.7" r="11.38" fill="#8B88FF" stroke="#000" stroke-width="1.25"/>
<circle cx="1595.1" cy="388.2" r="11.38" fill="#8B88FF" stroke="#000" stroke-width="1.25"/>
<circle cx="1584.7" cy="400.3" r="11.38" fill="#8B88FF" stroke="#000" stroke-width="1.25"/>
<circle cx="1570.8" cy="396.8" r="11.38" fill="#8B88FF" stroke="#000" stroke-width="1.25"/>
<circle cx="1615.9" cy="404.7" r="11.38" fill="#8B88FF" stroke="#000" stroke-width="1.25"/>
<circle cx="1615.0" cy="396.8" r="11.38" fill="#8B88FF" stroke="#000" stroke-width="1.25"/>
<circle cx="1570.8" cy="419.4" r="11.38" fill="#8B88FF" stroke="#000" stroke-width="1.25"/>
<circle cx="1599.4" cy="419.4" r="11.38" fill="#8B88FF" stroke="#000" stroke-width="1.25"/>
<circle cx="1583.8" cy="419.4" r="11.38" fill="#8B88FF" stroke="#000" stroke-width="1.25"/>
<circle cx="1625.5" cy="419.4" r="11.38" fill="#8B88FF" stroke="#000" stroke-width="1.25"/>
<circle cx="1630.7" cy="420.3" r="11.38" fill="#8B88FF" stroke="#000" stroke-width="1.25"/>
<circle cx="1652.4" cy="418.5" r="11.38" fill="#8B88FF" stroke="#000" stroke-width="1.25"/>
<circle cx="1753.1" cy="419.4" r="11.38" fill="#8B88FF" stroke="#000" stroke-width="1.25"/>
<circle cx="1846.0" cy="419.4" r="11.38" fill="#8B88FF" stroke="#000" stroke-width="1.25"/>
<circle cx="1636.8" cy="447.2" r="11.38" fill="#8B88FF" stroke="#000" stroke-width="1.25"/>
<circle cx="1604.6" cy="460.8" r="11.38" fill="#8B88FF" stroke="#000" stroke-width="1.25"/>
<circle cx="1633.3" cy="484.9" r="11.38" fill="#8B88FF" stroke="#000" stroke-width="1.25"/>
<circle cx="1671.5" cy="492.2" r="11.38" fill="#8B88FF" stroke="#000" stroke-width="1.25"/>
<circle cx="1697.0" cy="487.3" r="11.38" fill="#8B88FF" stroke="#000" stroke-width="1.25"/>
<circle cx="1713.7" cy="518.6" r="11.38" fill="#8B88FF" stroke="#000" stroke-width="1.25"/>
<circle cx="1648.6" cy="532.1" r="11.38" fill="#8B88FF" stroke="#000" stroke-width="1.25"/>
<line x1="1572.8" y1="396.4" x2="1846.6" y2="471.8" stroke="#000" stroke-width="5.8"/>
</g>
<text x="1870.10" y="159.1" font-size="31.3" text-anchor="end">R = -0.34*</text>
<text x="1870.10" y="203.4" font-size="31.3" text-anchor="end">n = 36</text>
<line x1="1554.20" y1="69.95" x2="1886.10" y2="69.95" stroke="#1c1c1c" stroke-width="1.9"/>
<line x1="1554.20" y1="127.50" x2="1886.10" y2="127.50" stroke="#111" stroke-width="2.6"/>
<line x1="1554.20" y1="595.00" x2="1886.10" y2="595.00" stroke="#111" stroke-width="2.4"/>
<line x1="1555.20" y1="69.00" x2="1555.20" y2="596.20" stroke="#1c1c1c" stroke-width="2.0"/>
<line x1="1884.90" y1="69.00" x2="1884.90" y2="596.20" stroke="#111" stroke-width="2.3"/>
<line x1="1572.80" y1="595.00" x2="1572.80" y2="605.1" stroke="#111" stroke-width="2.9"/>
<text transform="translate(1572.80,634.9) scale(1,1.05)" font-size="29.7" text-anchor="middle">0</text>
<line x1="1647.17" y1="595.00" x2="1647.17" y2="605.1" stroke="#111" stroke-width="2.9"/>
<text transform="translate(1647.17,634.9) scale(1,1.05)" font-size="29.7" text-anchor="middle">25</text>
<line x1="1721.55" y1="595.00" x2="1721.55" y2="605.1" stroke="#111" stroke-width="2.9"/>
<text transform="translate(1721.55,634.9) scale(1,1.05)" font-size="29.7" text-anchor="middle">50</text>
<line x1="1795.92" y1="595.00" x2="1795.92" y2="605.1" stroke="#111" stroke-width="2.9"/>
<text transform="translate(1795.92,634.9) scale(1,1.05)" font-size="29.7" text-anchor="middle">75</text>
<line x1="1870.30" y1="595.00" x2="1870.30" y2="605.1" stroke="#111" stroke-width="2.9"/>
<text transform="translate(1870.30,634.9) scale(1,1.05)" font-size="29.7" text-anchor="middle">100</text>
</svg></body></html>
